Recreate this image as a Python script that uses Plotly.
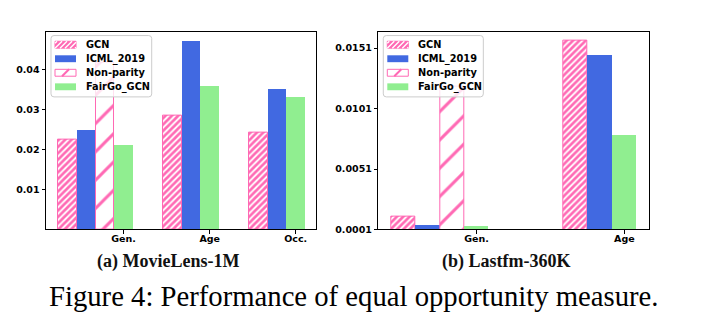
import plotly.graph_objects as go

# ---------------- data ----------------
series_names = ["GCN", "ICML_2019", "Non-parity", "FairGo_GCN"]

ml_groups = ["Gen.", "Age", "Occ."]
ml_gcn = [0.0226, 0.0285, 0.0244]
ml_icml = [0.0251, 0.0474, 0.0353]
ml_nonparity = [0.0419]            # only for Gen.
ml_fairgo = [0.0212, 0.0360, 0.0333]
ml_ytickvals = [0.01, 0.02, 0.03, 0.04]
ml_yticktext = ["0.01", "0.02", "0.03", "0.04"]

lf_groups = ["Gen.", "Age"]
lf_gcn = [0.00116, 0.01568]
lf_icml = [0.00053, 0.01456]
lf_nonparity = [0.0119]            # only for Gen.
lf_fairgo = [0.00045, 0.00795]
lf_ytickvals = [0.0001, 0.0051, 0.0101, 0.0151]
lf_yticktext = ["0.0001", "0.0051", "0.0101", "0.0151"]

# ---------------- layout constants ----------------
# the HTML body adds an 8px margin, so the figure is sized to fit the window
OFF = 8
W, H = 707 - OFF, 327 - OFF
PINK = "#ff69b4"
BLUE = "#4169e1"
GREEN = "#90ee90"

ml_group_start = [0.0, 5.63, 10.25]
lf_group_start = [0.0, 7.06]

TICK_FONT = dict(family="DejaVu Sans", size=9.5, color="black", weight="bold")
LEG_FONT = dict(family="DejaVu Sans", size=9.8, color="black", weight="bold")


def px(x):
    return (x - OFF) / W


def py(y):
    return 1 - (y - OFF) / H


def positions(starts, has_np):
    """bar centers for GCN, ICML, Non-parity, FairGo in each group"""
    g, i, n, f = [], [], [], []
    for k, s in enumerate(starts):
        g.append(s)
        i.append(s + 1)
        if has_np[k]:
            n.append(s + 2)
            f.append(s + 3)
        else:
            f.append(s + 2)
    return g, i, n, f


fig = go.Figure()

GCN_MARKER = dict(color=PINK, line=dict(color=PINK, width=1),
                  pattern=dict(shape="/", fgcolor=PINK, bgcolor="white",
                               size=4.5, solidity=0.6, fillmode="replace"))
NP_MARKER = dict(color="white", line=dict(color=PINK, width=1),
                 pattern=dict(shape="/", fgcolor=PINK, bgcolor="white",
                              size=20, solidity=0.15, fillmode="replace"))


def add_panel(xa, ya, starts, gcn, icml, npar, fair):
    has_np = [k < len(npar) for k in range(len(starts))]
    xg, xi, xn, xf = positions(starts, has_np)
    common = dict(xaxis=xa, yaxis=ya, width=1.0, showlegend=False)
    fig.add_trace(go.Bar(x=xg, y=gcn, name=series_names[0], marker=GCN_MARKER, **common))
    fig.add_trace(go.Bar(x=xi, y=icml, name=series_names[1],
                         marker=dict(color=BLUE, line=dict(width=0)), **common))
    fig.add_trace(go.Bar(x=xn, y=npar, name=series_names[2], marker=NP_MARKER, **common))
    fig.add_trace(go.Bar(x=xf, y=fair, name=series_names[3],
                         marker=dict(color=GREEN, line=dict(width=0)), **common))
    return xf


ml_ticks = add_panel("x", "y", ml_group_start, ml_gcn, ml_icml, ml_nonparity, ml_fairgo)
lf_ticks = add_panel("x2", "y2", lf_group_start, lf_gcn, lf_icml, lf_nonparity, lf_fairgo)

# ---------------- custom legends (matplotlib-like compact boxes) ----------------
shapes = []
annotations = []


def hatch_path(xa, xb, ya, yb, period, phase=0.0):
    """'/' hatch segments clipped to the rect (pixel coords, y down)."""
    segs = []
    c = xa + ya + phase
    while c <= xb + yb:
        x1 = max(xa, c - yb)
        x2 = min(xb, c - ya)
        if x2 > x1:
            segs.append("M%.4f,%.4f L%.4f,%.4f" % (px(x1), py(c - x1), px(x2), py(c - x2)))
        c += period
    return " ".join(segs)


def rounded_rect(x0, y0, x1, y1, r):
    return ("M%.4f,%.4f L%.4f,%.4f Q%.4f,%.4f %.4f,%.4f L%.4f,%.4f Q%.4f,%.4f %.4f,%.4f "
            "L%.4f,%.4f Q%.4f,%.4f %.4f,%.4f L%.4f,%.4f Q%.4f,%.4f %.4f,%.4f Z") % (
        px(x0 + r), py(y0), px(x1 - r), py(y0), px(x1), py(y0), px(x1), py(y0 + r),
        px(x1), py(y1 - r), px(x1), py(y1), px(x1 - r), py(y1),
        px(x0 + r), py(y1), px(x0), py(y1), px(x0), py(y1 - r),
        px(x0), py(y0 + r), px(x0), py(y0), px(x0 + r), py(y0))


def add_legend(bx0, by0, bx1, by1):
    shapes.append(dict(type="path", xref="paper", yref="paper", layer="above",
                       path=rounded_rect(bx0, by0, bx1, by1, 3),
                       fillcolor="rgba(255,255,255,0.8)", line=dict(color="#cccccc", width=1)))
    row0, step = 45.3, 14.25
    sw_x0, sw_x1 = bx0 + 4, bx0 + 25
    for k, name in enumerate(series_names):
        cy = row0 + k * step
        ya, yb = cy - 3.5, cy + 3.5
        if k == 0:
            shapes.append(dict(type="rect", xref="paper", yref="paper", layer="above",
                               x0=px(sw_x0), x1=px(sw_x1), y0=py(yb), y1=py(ya),
                               fillcolor=PINK, line=dict(color=PINK, width=1)))
            shapes.append(dict(type="path", xref="paper", yref="paper", layer="above",
                               path=hatch_path(sw_x0, sw_x1, ya, yb, 5.0, 2.0),
                               line=dict(color="white", width=1.4)))
        elif k == 2:
            shapes.append(dict(type="rect", xref="paper", yref="paper", layer="above",
                               x0=px(sw_x0), x1=px(sw_x1), y0=py(yb), y1=py(ya),
                               fillcolor="white", line=dict(width=0)))
            shapes.append(dict(type="path", xref="paper", yref="paper", layer="above",
                               path=hatch_path(sw_x0, sw_x1, ya, yb, 20.0, 14.0),
                               line=dict(color=PINK, width=2)))
            shapes.append(dict(type="rect", xref="paper", yref="paper", layer="above",
                               x0=px(sw_x0), x1=px(sw_x1), y0=py(yb), y1=py(ya),
                               fillcolor="rgba(0,0,0,0)", line=dict(color=PINK, width=1)))
        else:
            col = BLUE if k == 1 else GREEN
            shapes.append(dict(type="rect", xref="paper", yref="paper", layer="above",
                               x0=px(sw_x0), x1=px(sw_x1), y0=py(yb), y1=py(ya),
                               fillcolor=col, line=dict(width=0)))
        annotations.append(dict(text=name, x=px(bx0 + 32.5), y=py(cy), xref="paper", yref="paper",
                                xanchor="left", yanchor="middle", showarrow=False, font=LEG_FONT))


add_legend(51, 36, 151.7, 98.3)
add_legend(383.3, 36, 483.3, 98.3)

axis_common = dict(showline=True, linecolor="black", linewidth=1, mirror=True,
                   ticks="outside", ticklen=3.5, tickwidth=1, tickcolor="black",
                   showgrid=False, zeroline=False, tickfont=TICK_FONT)

fig.update_layout(
    width=W, height=H,
    margin=dict(l=0, r=0, t=0, b=0),
    plot_bgcolor="white", paper_bgcolor="white",
    barmode="overlay", bargap=0, showlegend=False,
    xaxis=dict(domain=[px(46), px(316)], range=[-1.17, 13.34],
               tickvals=ml_ticks, ticktext=ml_groups, anchor="y",
               ticklabelstandoff=-3, **axis_common),
    yaxis=dict(domain=[py(233), py(32)], range=[0, 0.0496],
               tickvals=ml_ytickvals, ticktext=ml_yticktext, anchor="x", **axis_common),
    xaxis2=dict(domain=[px(378.3), px(649.3)], range=[-1.02, 10.08],
                tickvals=lf_ticks, ticktext=lf_groups, anchor="y2",
                ticklabelstandoff=-3, **axis_common),
    yaxis2=dict(domain=[py(233), py(32)], range=[0.0001, 0.01646],
                tickvals=lf_ytickvals, ticktext=lf_yticktext, anchor="x2", **axis_common),
    shapes=shapes,
)

for a in annotations:
    fig.add_annotation(**a)

cap_font = dict(family="Liberation Serif", size=18, color="#111111", weight="bold")
fig.add_annotation(text="(a) MovieLens-1M", x=px(168), y=py(265.5), xref="paper", yref="paper",
                   xanchor="center", yanchor="middle", showarrow=False, font=cap_font)
fig.add_annotation(text="(b) Lastfm-360K", x=px(506), y=py(265.5), xref="paper", yref="paper",
                   xanchor="center", yanchor="middle", showarrow=False, font=cap_font)
fig.add_annotation(text="Figure 4: Performance of equal opportunity measure.",
                   x=px(353.5), y=py(301), xref="paper", yref="paper",
                   xanchor="center", yanchor="middle", showarrow=False,
                   font=dict(family="Liberation Serif", size=28.7, color="black"))

fig.write_html("out.html")
